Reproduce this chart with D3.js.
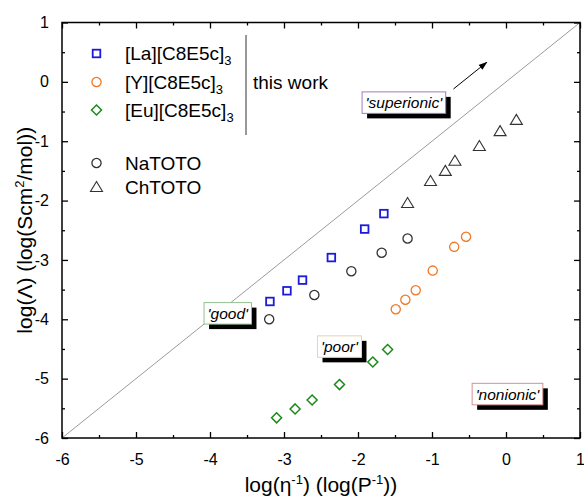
<!DOCTYPE html>
<html><head><meta charset="utf-8">
<script src="https://cdn.jsdelivr.net/npm/d3@7"></script>
<style>
html,body{margin:0;padding:0;background:#fff;}
svg{display:block;font-family:Arial,"Liberation Sans",sans-serif;}
</style></head>
<body><svg id="c" width="584" height="502"></svg>
<script>
// ---- data (log(1/eta), log(Lambda)) ----
const laX = [-3.19, -2.96, -2.75, -2.36, -1.91, -1.65];
const laY = [-3.70, -3.52, -3.34, -2.96, -2.48, -2.22];
const yX  = [-1.49, -1.36, -1.22, -0.99, -0.70, -0.54];
const yY  = [-3.83, -3.67, -3.51, -3.18, -2.78, -2.61];
const euX = [-3.10, -2.85, -2.62, -2.25, -1.80, -1.60];
const euY = [-5.66, -5.51, -5.36, -5.10, -4.72, -4.51];
const naX = [-3.20, -2.59, -2.09, -1.68, -1.33];
const naY = [-4.00, -3.59, -3.19, -2.88, -2.64];
const chX = [-1.33, -1.02, -0.82, -0.69, -0.36, -0.08, 0.14];
const chY = [-2.04, -1.67, -1.50, -1.33, -1.08, -0.83, -0.64];
const xTicks = [-6, -5, -4, -3, -2, -1, 0, 1];
const yTicks = [1, 0, -1, -2, -3, -4, -5, -6];
const regionLabels = ["'superionic'", "'good'", "'poor'", "'nonionic'"];
const regionX = [-1.38, -3.76, -2.25, 0.02];
const regionY = [-0.35, -3.90, -4.46, -5.26];
const regionColors = ["#a07cc0", "#90c090", "#e8d4a8", "#d89090"];
const arrowFrom = [-0.71, -0.12];
const arrowTo = [-0.26, 0.33];

const W = 584, H = 502;
const m = {l: 62, r: 4, t: 22.5, b: 64};
const svg = d3.select("#c");
const x = d3.scaleLinear().domain([-6, 1]).range([m.l, W - m.r]);
const y = d3.scaleLinear().domain([-6, 1]).range([H - m.b, m.t]);
const x0 = x.range()[0], x1 = x.range()[1], y0 = y.range()[0], y1 = y.range()[1];

const defs = svg.append("defs");
defs.append("clipPath").attr("id", "clip").append("rect")
  .attr("x", x0).attr("y", y1).attr("width", x1 - x0).attr("height", y0 - y1);
defs.append("marker").attr("id", "ah").attr("viewBox", "0 0 10 10")
  .attr("refX", 9).attr("refY", 5).attr("markerWidth", 9).attr("markerHeight", 9)
  .attr("markerUnits", "userSpaceOnUse").attr("orient", "auto")
  .append("path").attr("d", "M0,1.5 L10,5 L0,8.5 Z").attr("fill", "#000");

// diagonal y = x
svg.append("line").attr("clip-path", "url(#clip)")
  .attr("x1", x(-6)).attr("y1", y(-6)).attr("x2", x(1)).attr("y2", y(1))
  .attr("stroke", "#9a9a9a").attr("stroke-width", 1);

// arrow
svg.append("line")
  .attr("x1", x(arrowFrom[0])).attr("y1", y(arrowFrom[1]))
  .attr("x2", x(arrowTo[0])).attr("y2", y(arrowTo[1]))
  .attr("stroke", "#000").attr("stroke-width", 1).attr("marker-end", "url(#ah)");

// axes (ticks inward, mirrored)
const minorX = d3.range(-6, 1.01, 0.5), minorY = d3.range(-6, 1.01, 0.5);
function axisGroup(axis, tr) {
  const g = svg.append("g").attr("transform", tr).call(axis);
  g.select(".domain").remove();
  g.selectAll(".tick line").attr("stroke", "#000").attr("stroke-width", 1.3);
  return g;
}
const bottom = axisGroup(d3.axisBottom(x).tickValues(xTicks).tickSize(-6).tickPadding(16).tickFormat(d3.format("d")), `translate(0,${y0})`);
bottom.selectAll("text").attr("font-size", 16).attr("fill", "#000").text(d => d < 0 ? "-" + Math.abs(d) : d);
axisGroup(d3.axisBottom(x).tickValues(minorX.filter(v => !Number.isInteger(v))).tickSize(-3).tickFormat(""), `translate(0,${y0})`);
axisGroup(d3.axisTop(x).tickValues(xTicks).tickSize(-6).tickFormat(""), `translate(0,${y1})`);
axisGroup(d3.axisTop(x).tickValues(minorX.filter(v => !Number.isInteger(v))).tickSize(-3).tickFormat(""), `translate(0,${y1})`);
const left = axisGroup(d3.axisLeft(y).tickValues(yTicks).tickSize(-6).tickPadding(13), `translate(${x0},0)`);
left.selectAll("text").attr("font-size", 16).attr("fill", "#000").text(d => d < 0 ? "-" + Math.abs(d) : d);
axisGroup(d3.axisLeft(y).tickValues(minorY.filter(v => !Number.isInteger(v))).tickSize(-3).tickFormat(""), `translate(${x0},0)`);
axisGroup(d3.axisRight(y).tickValues(yTicks).tickSize(-6).tickFormat(""), `translate(${x1},0)`);
axisGroup(d3.axisRight(y).tickValues(minorY.filter(v => !Number.isInteger(v))).tickSize(-3).tickFormat(""), `translate(${x1},0)`);
svg.append("rect").attr("x", x0).attr("y", y1).attr("width", x1 - x0).attr("height", y0 - y1)
  .attr("fill", "none").attr("stroke", "#000").attr("stroke-width", 1.5);

// region labels with drop shadow
regionLabels.forEach((t, i) => {
  const g = svg.append("g").attr("transform", `translate(${x(regionX[i])},${y(regionY[i])})`);
  const txt = g.append("text").attr("text-anchor", "middle").attr("dy", "0.36em")
    .attr("font-size", 15.5).attr("font-style", "italic").attr("fill", "#000").text(t);
  const bb = txt.node().getBBox();
  const pw = bb.width + 6, ph = 21.5;
  g.insert("rect", "text").attr("x", -pw / 2 + 5).attr("y", -ph / 2 + 5).attr("width", pw).attr("height", ph).attr("fill", "#000");
  g.insert("rect", "text").attr("x", -pw / 2).attr("y", -ph / 2).attr("width", pw).attr("height", ph)
    .attr("fill", "#fff").attr("stroke", regionColors[i]).attr("stroke-width", 1);
});

// marker drawing
const sym = {
  square: (g, c) => g.append("rect").attr("x", -3.8).attr("y", -3.8).attr("width", 7.6).attr("height", 7.6)
      .attr("fill", "none").attr("stroke", c).attr("stroke-width", 1.8),
  circle: (g, c) => g.append("circle").attr("r", 4.6).attr("fill", "none").attr("stroke", c).attr("stroke-width", 1.3),
  diamond: (g, c) => g.append("path").attr("d", "M0,-5 L5,0 L0,5 L-5,0 Z").attr("fill", "none").attr("stroke", c).attr("stroke-width", 1.5),
  triangle: (g, c) => g.append("path").attr("d", "M0,-5.5 L6,4.5 L-6,4.5 Z").attr("fill", "none").attr("stroke", c).attr("stroke-width", 1.1)
};
const series = [
  {xs: laX, ys: laY, s: "square", c: "#1c1cd8"},
  {xs: naX, ys: naY, s: "circle", c: "#333"},
  {xs: chX, ys: chY, s: "triangle", c: "#333"},
  {xs: yX, ys: yY, s: "circle", c: "#f07828"},
  {xs: euX, ys: euY, s: "diamond", c: "#1a8a1a"}
];
series.forEach(se => {
  se.xs.forEach((v, i) => {
    const g = svg.append("g").attr("transform", `translate(${x(v)},${y(se.ys[i])})`);
    sym[se.s](g, se.c);
  });
});

// legend
const leg = [
  {name: "[La][C8E5c]", sub: "3", s: "square", c: "#1c1cd8", ly: 53.5},
  {name: "[Y][C8E5c]", sub: "3", s: "circle", c: "#f07828", ly: 82},
  {name: "[Eu][C8E5c]", sub: "3", s: "diamond", c: "#1a8a1a", ly: 110},
  {name: "NaTOTO", sub: "", s: "circle", c: "#333", ly: 163},
  {name: "ChTOTO", sub: "", s: "triangle", c: "#333", ly: 187}
];
leg.forEach(l => {
  const g = svg.append("g").attr("transform", `translate(96.5,${l.ly})`);
  sym[l.s](g, l.c);
  const t = svg.append("text").attr("x", 125).attr("y", l.ly).attr("dy", "0.36em")
    .attr("font-size", 19).attr("fill", "#000").text(l.name);
  if (l.sub) t.append("tspan").attr("font-size", 13).attr("dy", 5).text(l.sub);
});
svg.append("line").attr("x1", 246).attr("x2", 246).attr("y1", 35).attr("y2", 135).attr("stroke", "#333").attr("stroke-width", 1);
svg.append("text").attr("x", 253).attr("y", 82).attr("dy", "0.36em").attr("font-size", 19).text("this work");

// axis titles
const xt = svg.append("text").attr("x", (x0 + x1) / 2).attr("y", 492).attr("text-anchor", "middle").attr("font-size", 21);
xt.append("tspan").text("log(\u03B7");
xt.append("tspan").attr("font-size", 13).attr("dy", -8).text("-1");
xt.append("tspan").attr("dy", 8).text(") (log(P");
xt.append("tspan").attr("font-size", 13).attr("dy", -8).text("-1");
xt.append("tspan").attr("dy", 8).text("))");

const yt = svg.append("text").attr("transform", `translate(32,${(y0 + y1) / 2}) rotate(-90)`)
  .attr("text-anchor", "middle").attr("font-size", 21);
yt.append("tspan").text("log(\u039B) (log(Scm");
yt.append("tspan").attr("font-size", 13).attr("dy", -8).text("2");
yt.append("tspan").attr("dy", 8).text("/mol))");
</script></body></html>
